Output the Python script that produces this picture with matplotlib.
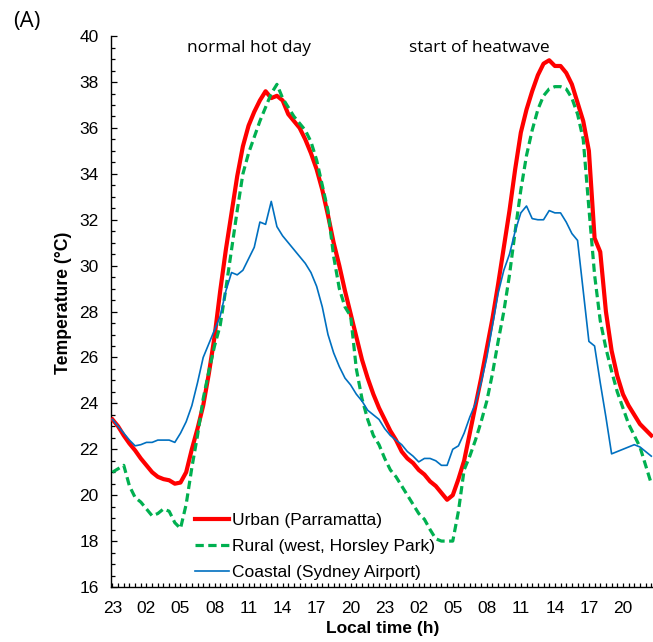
#!/usr/bin/env python3
"""Half-hourly air temperature at three Sydney sites: normal hot day vs start of heatwave."""

import matplotlib

matplotlib.use("Agg")
import matplotlib.pyplot as plt
import numpy as np
from matplotlib.ticker import MultipleLocator

# half-hourly values, starting 23:00 and running 48 h
urban = [
    23.3, 23.0, 22.6, 22.25, 21.95, 21.6, 21.3, 21.0, 20.8, 20.7, 20.65, 20.5,
    20.55, 21.0, 22.0, 22.9, 23.9, 25.3, 26.9, 28.9, 30.7, 32.3, 33.9, 35.2,
    36.1, 36.7, 37.2, 37.6, 37.3, 37.4, 37.2, 36.6, 36.3, 36.0, 35.5, 34.9,
    34.2, 33.3, 32.2, 31.0, 30.0, 28.9, 27.9, 26.9, 25.9, 25.1, 24.4, 23.8,
    23.3, 22.8, 22.4, 21.9, 21.6, 21.4, 21.1, 20.9, 20.6, 20.4, 20.1, 19.8,
    20.0, 20.7, 21.5, 22.7, 23.9, 25.1, 26.4, 27.7, 29.2, 30.8, 32.4, 34.2,
    35.8, 36.8, 37.6, 38.3, 38.8, 38.95, 38.7, 38.7, 38.4, 37.9, 37.1, 36.3,
    35.0, 31.2, 30.6, 28.0, 26.3, 25.2, 24.4, 23.9, 23.5, 23.1, 22.85, 22.6,
]
rural = [
    21.0, 21.15, 21.3, 20.4, 19.9, 19.7, 19.4, 19.1, 19.2, 19.4, 19.3, 18.8,
    18.55, 19.6, 21.2, 22.6, 24.2, 25.4, 26.5, 27.4, 29.0, 30.7, 32.4, 34.0,
    34.9, 35.6, 36.3, 36.9, 37.5, 37.9, 37.3, 36.9, 36.5, 36.2, 35.9, 35.4,
    34.6, 33.5, 32.4, 30.4, 29.0, 28.2, 27.8, 25.5, 24.2, 23.3, 22.6, 22.2,
    21.6, 21.1, 20.8, 20.4, 20.0, 19.6, 19.2, 18.95, 18.5, 18.1, 18.0, 18.0,
    18.0, 19.3, 21.1, 21.7, 22.4, 23.2, 24.1, 25.3, 26.7, 28.0, 29.6, 31.5,
    33.3, 34.8, 35.9, 36.8, 37.4, 37.7, 37.8, 37.8, 37.7, 37.3, 36.6, 35.5,
    32.5, 29.6, 27.6, 26.4, 25.4, 24.5, 23.8, 23.1, 22.6, 22.1, 21.3, 20.5,
]
coastal = [
    23.3, 23.0, 22.7, 22.4, 22.15, 22.2, 22.3, 22.3, 22.4, 22.4, 22.4, 22.3,
    22.7, 23.2, 23.9, 24.9, 26.0, 26.6, 27.2, 27.8, 28.9, 29.7, 29.6, 29.8,
    30.3, 30.8, 31.9, 31.8, 32.8, 31.7, 31.3, 31.0, 30.7, 30.4, 30.1, 29.7,
    29.1, 28.2, 27.0, 26.2, 25.6, 25.1, 24.8, 24.4, 24.1, 23.7, 23.5, 23.3,
    22.9, 22.6, 22.4, 22.2, 21.9, 21.7, 21.45, 21.6, 21.6, 21.5, 21.3, 21.3,
    22.0, 22.15, 22.7, 23.4, 24.0, 24.9, 26.0, 27.4, 28.8, 29.8, 30.5, 31.5,
    32.3, 32.6, 32.05, 32.0, 32.0, 32.4, 32.3, 32.3, 31.9, 31.4, 31.1, 28.9,
    26.7, 26.5, 24.9, 23.4, 21.8, 21.9, 22.0, 22.1, 22.2, 22.1, 21.9, 21.7,
]

hour_labels = ["23", "02", "05", "08", "11", "14", "17", "20",
               "23", "02", "05", "08", "11", "14", "17", "20"]
series_names = ["Urban (Parramatta)", "Rural (west, Horsley Park)", "Coastal (Sydney Airport)"]
period_notes = ["normal hot day", "start of heatwave"]

ARIAL = "Liberation Sans"
NOTE_FONT = "Open Sans"


def main() -> None:
    plt.rcParams["font.family"] = ARIAL
    fig = plt.figure(figsize=(6.53, 6.42), dpi=100)
    ax = fig.add_axes([0.170, 0.0857, 0.830, 0.858])

    x = np.arange(len(urban))
    ax.plot(x, urban, color="#FF0000", lw=3.0, label=series_names[0], zorder=3)
    ax.plot(x, rural, color="#00B050", lw=2.3, dashes=(2.6, 1.4), label=series_names[1], zorder=4)
    ax.plot(x, coastal, color="#0070C0", lw=1.2, label=series_names[2], zorder=5)

    ax.set_xlim(-0.25, 95.3)
    ax.set_ylim(16, 40)
    ax.set_xticks(np.arange(0, len(urban), 6))
    ax.set_xticklabels(hour_labels)
    ax.xaxis.set_minor_locator(MultipleLocator(1))
    ax.yaxis.set_major_locator(MultipleLocator(2))
    ax.yaxis.set_minor_locator(MultipleLocator(0.5))

    for side in ("top", "right"):
        ax.spines[side].set_visible(False)
    for side in ("left", "bottom"):
        ax.spines[side].set_linewidth(1.0)

    ax.tick_params(axis="both", which="both", direction="in", width=0.9, labelsize=12.5)
    ax.tick_params(axis="y", which="major", length=4.2, pad=9)
    ax.tick_params(axis="y", which="minor", length=2.6)
    ax.tick_params(axis="x", which="major", length=3.2, pad=10)
    ax.tick_params(axis="x", which="minor", length=2.6)

    fig.text(64 / 653, 1 - 303 / 642, "Temperature (°C)", rotation=90,
             ha="center", va="center", fontsize=12.7, fontweight="bold")
    fig.text(383 / 653, 1 - 629 / 642, "Local time (h)",
             ha="center", va="center", fontsize=12.5, fontweight="bold")

    fig.text(249 / 653, 1 - 52.5 / 642, period_notes[0], ha="center", va="baseline",
             family=NOTE_FONT, fontsize=12.5)
    fig.text(479 / 653, 1 - 52.5 / 642, period_notes[1], ha="center", va="baseline",
             family=NOTE_FONT, fontsize=12.5)
    fig.text(27 / 653, 1 - 21 / 642, "(A)", ha="center", va="center",
             family=NOTE_FONT, fontsize=16)

    ax.legend(loc="upper left", bbox_to_anchor=(195 / 653, 1 - 513 / 642),
              bbox_transform=fig.transFigure, frameon=False, fontsize=12.5,
              handlelength=1.95, handletextpad=0.2, labelspacing=0.62,
              borderpad=0, borderaxespad=0)

    fig.savefig("out.png", dpi=100)
    plt.close(fig)


if __name__ == "__main__":
    main()
